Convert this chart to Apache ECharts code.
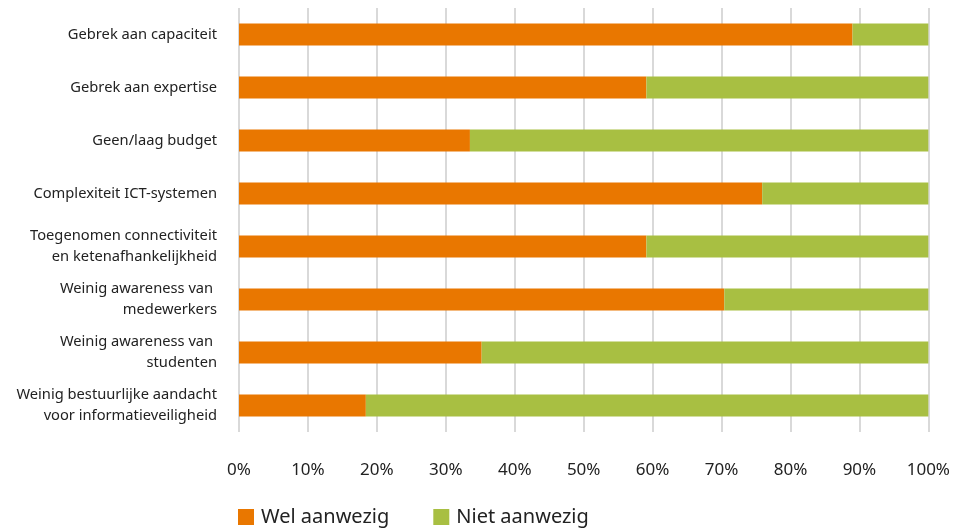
<!DOCTYPE html>
<html>
<head>
<meta charset="utf-8">
<script src="https://cdn.jsdelivr.net/npm/echarts@6/dist/echarts.min.js"></script>
<style>
  html, body { margin: 0; padding: 0; background: #fff; }
  #chart { width: 953px; height: 531px; }
</style>
</head>
<body>
<div id="chart"></div>
<script>
// categorieen, van boven naar beneden
var categories = [
    'Gebrek aan capaciteit',
    'Gebrek aan expertise',
    'Geen/laag budget',
    'Complexiteit ICT-systemen',
    'Toegenomen connectiviteit\nen ketenafhankelijkheid',
    'Weinig awareness van \nmedewerkers',
    'Weinig awareness van \nstudenten',
    'Weinig bestuurlijke aandacht\nvoor informatieveiligheid'
];
var welAanwezig = [89.0, 59.1, 33.5, 75.9, 59.1, 70.4, 35.2, 18.4];
var nietAanwezig = [11.0, 40.9, 66.5, 24.1, 40.9, 29.6, 64.8, 81.6];
var seriesNames = ['Wel aanwezig', 'Niet aanwezig'];

var myChart = echarts.init(document.getElementById('chart'));

var option = {
    animation: false,
    textStyle: { fontFamily: '"Noto Sans", sans-serif' },
    grid: {
        left: 239,
        right: 24,
        top: 8,
        bottom: 99,
        containLabel: false
    },
    legend: {
        data: seriesNames,
        left: 238,
        bottom: 4,
        padding: 0,
        itemWidth: 16,
        itemHeight: 16,
        itemGap: 44,
        icon: 'rect',
        textStyle: { fontSize: 20, color: '#222', padding: [0, 0, 0, 2] }
    },
    xAxis: {
        type: 'value',
        min: 0,
        max: 100,
        interval: 10,
        axisLine: { show: false },
        axisTick: { show: false },
        splitLine: { lineStyle: { color: '#d9d9d9', width: 2 } },
        axisLabel: {
            formatter: '{value}%',
            fontSize: 17,
            color: '#222',
            margin: 30
        }
    },
    yAxis: {
        type: 'category',
        inverse: true,
        data: categories,
        axisLine: { show: false },
        axisTick: { show: false },
        axisLabel: {
            fontSize: 14.7,
            color: '#222',
            margin: 22,
            lineHeight: 21,
            align: 'right',
            padding: [3, 0, 0, 0]
        }
    },
    series: [{
        name: seriesNames[0],
        type: 'bar',
        stack: 'totaal',
        barWidth: 22,
        itemStyle: { color: '#E97700' },
        data: welAanwezig
    }, {
        name: seriesNames[1],
        type: 'bar',
        stack: 'totaal',
        barWidth: 22,
        itemStyle: { color: '#A8BF42' },
        data: nietAanwezig
    }]
};

myChart.setOption(option);
</script>
</body>
</html>
